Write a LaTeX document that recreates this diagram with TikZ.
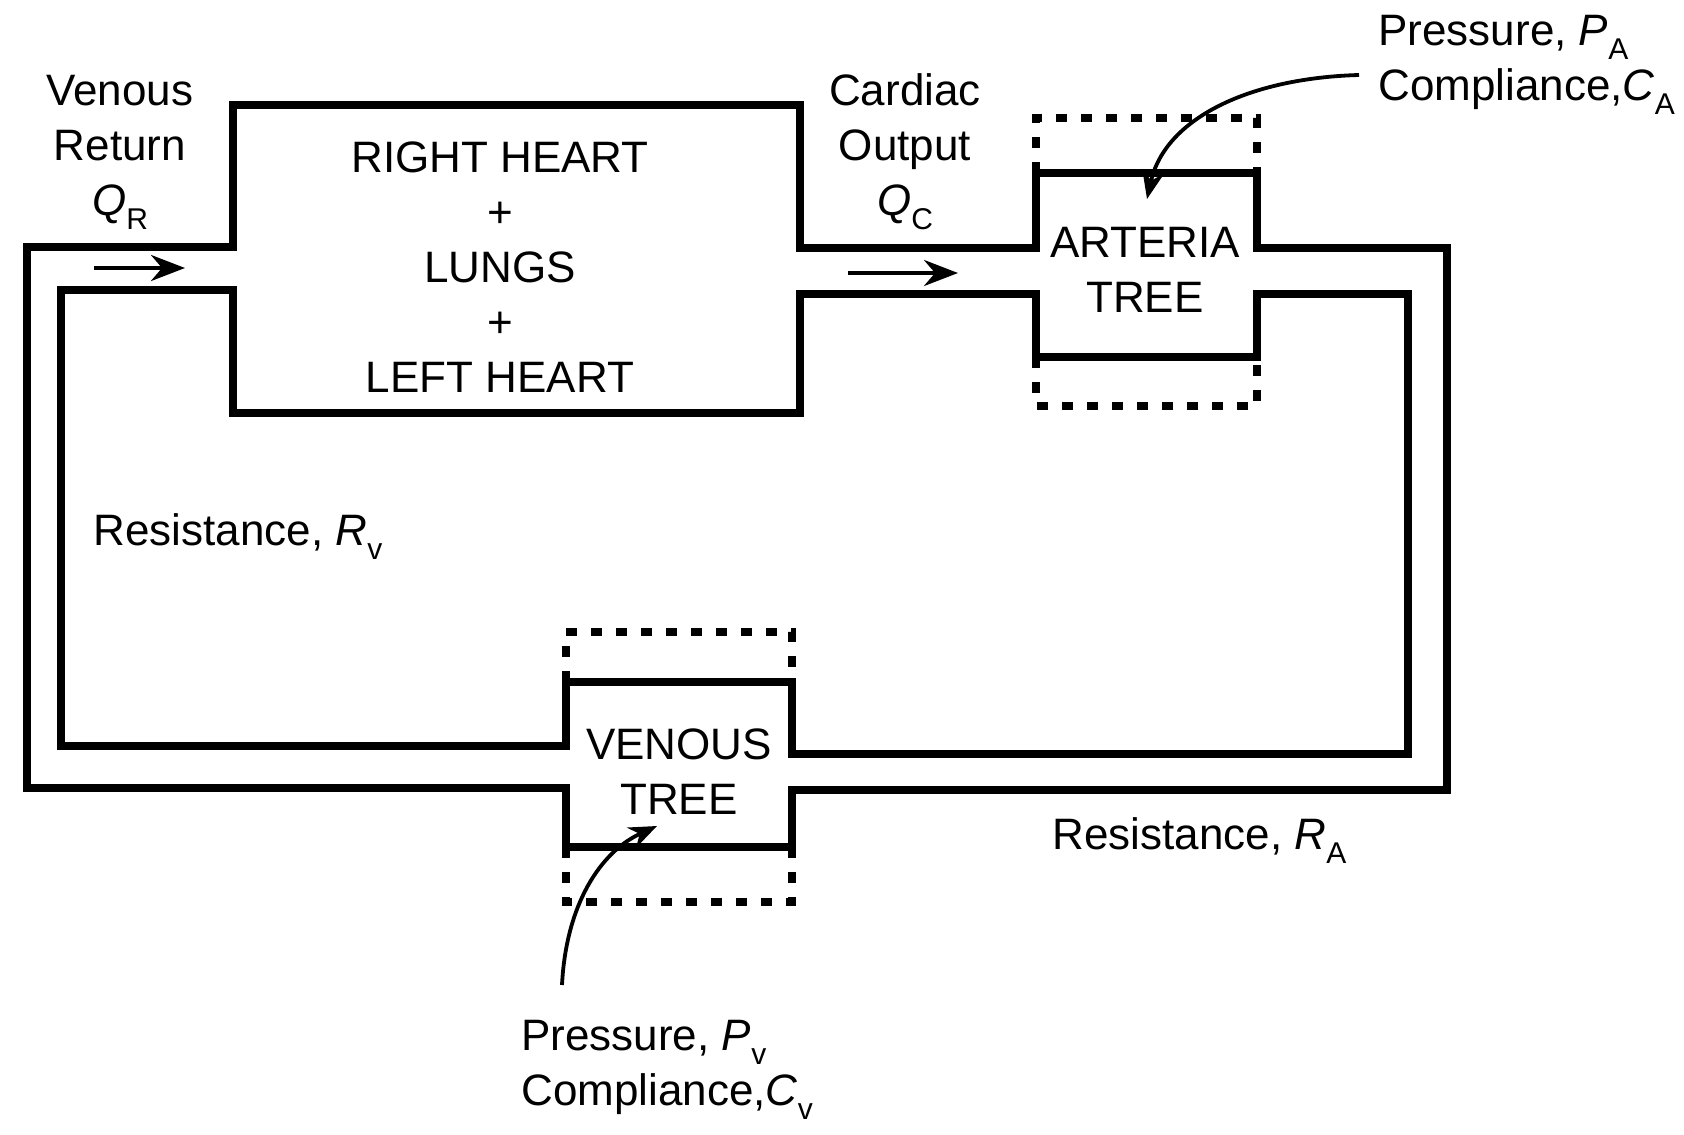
\documentclass[tikz,border=0pt]{standalone}
\usepackage{fontspec}
\setmainfont{Liberation Sans}
\usetikzlibrary{arrows.meta}
\newcommand\sbs[1]{\raisebox{-7pt}{\fontsize{15}{15}\selectfont #1}}
\begin{document}
\begin{tikzpicture}[x=0.5pt,y=-0.5pt,
  wall/.style={line width=3.7pt, line join=miter},
  dashbox/.style={line width=3.8pt, dash pattern=on 5.5pt off 7pt},
  lbl/.style={font=\fontsize{22}{27.5}\selectfont, inner sep=0pt, align=center},
  flow/.style={line width=2.2pt, -{Stealth[length=17pt,width=13pt]}},
  pointer/.style={line width=1.9pt, -{Stealth[length=14pt,width=11pt]}}]

\useasboundingbox (0,0) rectangle (1684,1134);

% outer wall
\draw[wall] (233,247) -- (27,247) -- (27,788) -- (566,788) -- (566,847) -- (792,847)
  -- (792,790) -- (1447,790) -- (1447,248) -- (1257,248) -- (1257,173) -- (1036,173)
  -- (1036,248) -- (800,248) -- (800,105) -- (233,105) -- cycle;
% inner wall
\draw[wall] (233,290) -- (61,290) -- (61,746) -- (566,746) -- (566,682) -- (792,682)
  -- (792,754) -- (1408,754) -- (1408,294) -- (1257,294) -- (1257,357) -- (1036,357)
  -- (1036,294) -- (800,294) -- (800,413) -- (233,413) -- cycle;

% compliance (dashed) outlines
\draw[dashbox] (1036,173) -- (1036,118) -- (1257,118) -- (1257,173);
\draw[dashbox] (1036,357) -- (1036,406) -- (1257,406) -- (1257,357);
\draw[dashbox] (566,682) -- (566,632) -- (792,632) -- (792,682);
\draw[dashbox] (566,847) -- (566,902) -- (792,902) -- (792,847);

% labels
\node[lbl] (vr) at (120,152) {Venous\\Return\\\textit{Q}\sbs{R}};
\node[lbl] (heart) at (500,267) {RIGHT HEART\\+\\LUNGS\\+\\LEFT HEART};
\node[lbl] (co) at (905,152) {Cardiac\\Output\\\textit{Q}\sbs{C}};
\node[lbl] (art) at (1145,270) {ARTERIA\\TREE};
\node[lbl] (ven) at (679,772) {VENOUS\\TREE};
\node[lbl, anchor=west, align=left] (pa) at (1378,65) {Pressure, \textit{P}\sbs{A}\\Compliance,\textit{C}\sbs{A}};
\node[lbl, anchor=west, align=left] (pv) at (521,1070) {Pressure, \textit{P}\sbs{v}\\Compliance,\textit{C}\sbs{v}};
\node[lbl, anchor=west] (rv) at (93,537) {Resistance, \textit{R}\sbs{v}};
\node[lbl, anchor=west] (ra) at (1052,841) {Resistance, \textit{R}\sbs{A}};

% flow arrows
\coordinate (qrs) at (94,268);
\coordinate (qre) at (185,268);
\coordinate (qcs) at (848,273);
\coordinate (qce) at (958,273);
\draw[flow] (qrs) -- (qre);
\draw[flow] (qcs) -- (qce);

% pointers
\coordinate (pas) at (1359,75);
\coordinate (pat) at (1147,199);
\draw[pointer] (pas) .. controls (1250,78) and (1165,118) .. (pat);
\coordinate (pvs) at (562,985);
\coordinate (pvt) at (657,826);
\draw[pointer] (pvs) .. controls (566,905) and (600,852) .. (pvt);
\end{tikzpicture}
\end{document}
